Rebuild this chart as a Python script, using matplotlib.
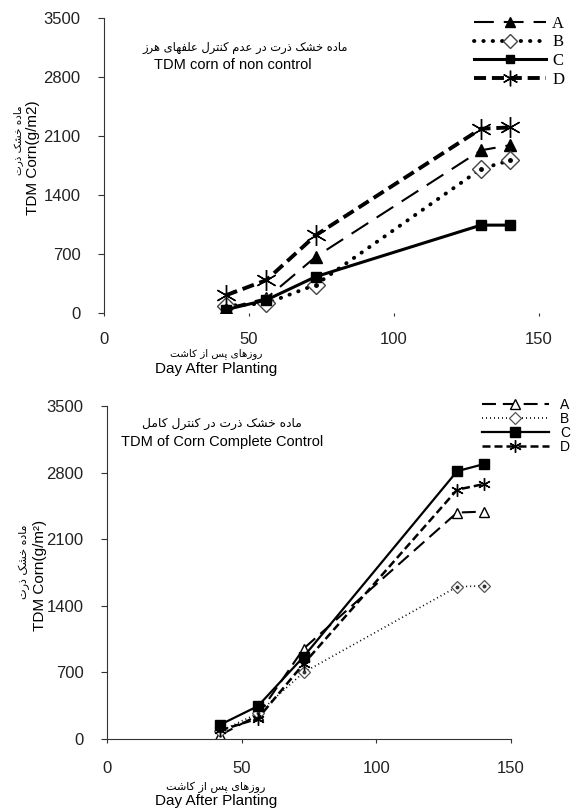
import numpy as np
import matplotlib
matplotlib.use('Agg')
import matplotlib.pyplot as plt

# data
days = [42, 56, 73, 130, 140]

top_A = [60, 180, 670, 1930, 1990]
top_B = [90, 120, 340, 1710, 1810]
top_C = [45, 160, 435, 1045, 1045]
top_D = [215, 395, 925, 2185, 2200]

bot_A = [40, 250, 950, 2380, 2390]
bot_B = [80, 270, 700, 1600, 1610]
bot_C = [150, 345, 865, 2815, 2890]
bot_D = [90, 215, 790, 2620, 2680]

xticks = [0, 50, 100, 150]
yticks = [0, 700, 1400, 2100, 2800, 3500]
names = ['A', 'B', 'C', 'D']

title_top_fa = 'ماده خشک ذرت در عدم کنترل علفهای هرز'
title_top_en = 'TDM corn of non control'
title_bot_fa = 'ماده خشک ذرت در کنترل کامل'
title_bot_en = 'TDM of Corn Complete Control'
ylab_fa = 'ماده خشک ذرت'
ylab_top_en = 'TDM Corn(g/m2)'
ylab_bot_en = 'TDM Corn(g/m²)'
xlab_fa = 'روزهای پس از کاشت'
xlab_en = 'Day After Planting'

# minimal persian shaping: (isolated, final[, initial, medial])
FORMS = {
    'ا': ('\uFE8D', '\uFE8E'), 'د': ('\uFEA9', '\uFEAA'), 'ذ': ('\uFEAB', '\uFEAC'),
    'ر': ('\uFEAD', '\uFEAE'), 'ز': ('\uFEAF', '\uFEB0'), 'و': ('\uFEED', '\uFEEE'),
    'م': ('\uFEE1', '\uFEE2', '\uFEE3', '\uFEE4'), 'ه': ('\uFEE9', '\uFEEA', '\uFEEB', '\uFEEC'),
    'خ': ('\uFEA5', '\uFEA6', '\uFEA7', '\uFEA8'), 'ش': ('\uFEB5', '\uFEB6', '\uFEB7', '\uFEB8'),
    'س': ('\uFEB1', '\uFEB2', '\uFEB3', '\uFEB4'), 'ت': ('\uFE95', '\uFE96', '\uFE97', '\uFE98'),
    'ع': ('\uFEC9', '\uFECA', '\uFECB', '\uFECC'), 'ن': ('\uFEE5', '\uFEE6', '\uFEE7', '\uFEE8'),
    'ل': ('\uFEDD', '\uFEDE', '\uFEDF', '\uFEE0'), 'ف': ('\uFED1', '\uFED2', '\uFED3', '\uFED4'),
    'ک': ('\uFB8E', '\uFB8F', '\uFB90', '\uFB91'), 'پ': ('\uFB56', '\uFB57', '\uFB58', '\uFB59'),
    'ی': ('\uFBFC', '\uFBFD', '\uFBFE', '\uFBFF'),
}

def fa(s):
    out = []
    for i, ch in enumerate(s):
        if ch not in FORMS:
            out.append(ch)
            continue
        f = FORMS[ch]
        prev = s[i-1] if i > 0 else ''
        nxt = s[i+1] if i + 1 < len(s) else ''
        jp = prev in FORMS and len(FORMS[prev]) == 4
        jn = len(f) == 4 and nxt in FORMS
        if jp and jn:
            out.append(f[3])
        elif jp:
            out.append(f[1])
        elif jn:
            out.append(f[2])
        else:
            out.append(f[0])
    return ''.join(reversed(out))

plt.rcParams['font.family'] = ['Liberation Sans', 'DejaVu Sans']
W, H = 573, 808
fig = plt.figure(figsize=(W/100, H/100), dpi=100)

def fx(px):
    return px / W

def fy(py):
    return 1 - py / H

ax1 = fig.add_axes([fx(104), fy(313.5), fx(539-104), (313.5-17.5)/H])
ax2 = fig.add_axes([fx(107), fy(739), fx(511-107), (739-406)/H])

# top panel
ax1.plot(days, top_A, color='k', lw=1.5, ls=(0, (9.5, 4.8)), marker='^', ms=9, label=names[0])
ax1.plot(days, top_B, color='k', lw=2.8, ls=(0, (0.1, 2.3)), dash_capstyle='round',
         marker='D', ms=9, mfc='white', mec='#444', mew=1.0, label=names[1])
ax1.plot(days, top_B, ls='none', marker='o', ms=2.5, color='k')
ax1.plot(days, top_C, color='k', lw=2.2, marker='s', ms=7, label=names[2])
ax1.plot(days, top_D, color='k', lw=2.8, ls=(0, (3.1, 1.5)), marker=(6, 2, 0), ms=15,
         mew=1.0, label=names[3])

# bottom panel
ax2.plot(days, bot_A, color='k', lw=1.5, ls=(0, (6.7, 3.3)), marker='^', ms=7, mfc='white',
         mew=1.0, label=names[0])
ax2.plot(days, bot_B, color='k', lw=1.2, ls=(0, (0.6, 1.8)), marker='D', ms=6, mfc='white',
         mec='#555', mew=0.9, label=names[1])
ax2.plot(days, bot_B, ls='none', marker='o', ms=1.8, color='#333')
ax2.plot(days, bot_C, color='k', lw=1.6, marker='s', ms=7, label=names[2])
ax2.plot(days, bot_D, color='k', lw=1.8, ls=(0, (3.2, 1.6)), marker=(6, 2, 0), ms=9,
         mew=1.0, label=names[3])

for ax in (ax1, ax2):
    ax.set_xlim(0, 150)
    ax.set_ylim(0, 3500)
    ax.set_xticks(xticks)
    ax.set_yticks(yticks)
    for s in ('top', 'right'):
        ax.spines[s].set_visible(False)
    ax.spines['left'].set_color('#333')
    ax.spines['bottom'].set_color('#333')
    ax.tick_params(axis='y', direction='out', length=4, pad=13, labelsize=12,
                   labelcolor='#222', color='#333')
    ax.tick_params(axis='x', direction='out', length=3, pad=13, labelsize=12,
                   labelcolor='#222', color='#333')

ax1.spines['bottom'].set_visible(False)
ax1.tick_params(axis='x', length=2, pad=11)

# legends
ax1.legend(loc='upper left', bbox_to_anchor=(fx(474), fy(16)), bbox_transform=fig.transFigure,
           frameon=False, handlelength=4.3, handletextpad=0.4, labelspacing=0.15, borderpad=0,
           borderaxespad=0, numpoints=1, markerscale=0.75,
           prop={'family': 'Liberation Serif', 'size': 12})
ax2.legend(loc='upper left', bbox_to_anchor=(fx(482), fy(398)), bbox_transform=fig.transFigure,
           frameon=False, handlelength=4.8, handletextpad=0.8, labelspacing=0.0, borderpad=0,
           borderaxespad=0, numpoints=1, prop={'size': 10})

# in-plot titles
fig.text(fx(245), fy(47), fa(title_top_fa), family='DejaVu Sans', fontsize=8.3, ha='center', va='center')
fig.text(fx(233), fy(65), title_top_en, fontsize=10.5, ha='center', va='center')
fig.text(fx(222), fy(423), fa(title_bot_fa), family='DejaVu Sans', fontsize=8.8, ha='center', va='center')
fig.text(fx(222), fy(442), title_bot_en, fontsize=10.5, ha='center', va='center')

# axis labels
fig.text(fx(18), fy(140), fa(ylab_fa), family='DejaVu Sans', fontsize=7.5, rotation=90,
         ha='center', va='center')
fig.text(fx(33), fy(158), ylab_top_en, fontsize=11, rotation=90, ha='center', va='center')
fig.text(fx(24), fy(562), fa(ylab_fa), family='DejaVu Sans', fontsize=8, rotation=90,
         ha='center', va='center')
fig.text(fx(40), fy(575), ylab_bot_en, fontsize=11, rotation=90, ha='center', va='center')

fig.text(fx(216), fy(354), fa(xlab_fa), family='DejaVu Sans', fontsize=7.5, ha='center', va='center')
fig.text(fx(216), fy(369), xlab_en, fontsize=11, ha='center', va='center')
fig.text(fx(216), fy(787), fa(xlab_fa), family='DejaVu Sans', fontsize=8, ha='center', va='center')
fig.text(fx(216), fy(801), xlab_en, fontsize=11, ha='center', va='center')

fig.savefig('out.png', dpi=100, facecolor='white')
